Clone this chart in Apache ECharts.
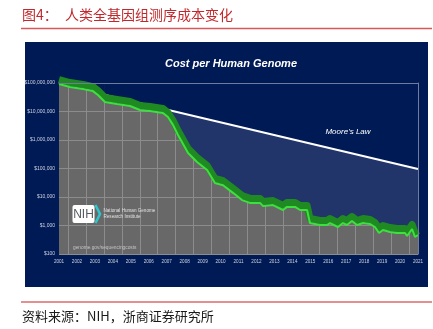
<!DOCTYPE html>
<html>
<head>
<meta charset="utf-8">
<script src="https://cdn.jsdelivr.net/npm/echarts@6/dist/echarts.min.js"></script>
<style>
  html, body { margin: 0; padding: 0; background: #ffffff; }
  #chart { width: 433px; height: 329px; }
</style>
</head>
<body>
<div id="chart"></div>
<script>
// ---- Data ----
const years = [2001.0, 2001.61, 2002.34, 2002.89, 2003.17, 2003.56, 2004.23, 2004.96, 2005.51, 2006.07,
  2006.79, 2007.07, 2007.35, 2007.63, 2008.19, 2008.69, 2009.25, 2009.69, 2010.14, 2010.69,
  2011.2, 2011.64, 2012.2, 2012.37, 2012.92, 2013.48, 2013.7, 2014.15, 2014.43, 2014.82,
  2014.98, 2015.54, 2015.93, 2016.1, 2016.54, 2016.82, 2017.04, 2017.32, 2017.6, 2017.94,
  2018.33, 2018.6, 2018.83, 2019.05, 2019.44, 2019.83, 2020.28, 2020.39, 2020.67, 2020.83, 2021.0];
const costPerGenome = [92e6, 72e6, 62e6, 52e6, 38e6, 21.5e6, 18.3e6, 15.6e6, 11.3e6, 10.4e6,
  8.9e6, 6.4e6, 3.4e6, 1.5e6, 350e3, 170e3, 89e3, 31e3, 26e3, 14e3,
  7800, 6200, 6200, 4800, 5200, 3500, 4500, 4500, 3500, 3500,
  1220, 1040, 1040, 1220, 885, 1220, 1040, 1440, 1040, 1220,
  1130, 885, 545, 695, 590, 545, 545, 428, 754, 395, 464];
const mooreYears = [2003.56, 2021.0];
const mooreCost = [3.8e7, 9.6e4];
const yearMin = 2001, yearMax = 2021;
const costMin = 100, costMax = 1e8;

const title = 'Cost per Human Genome';
const mooreLabel = "Moore's Law";
const headerFig = '图4：';
const headerTitle = '人类全基因组测序成本变化';
const sourceText = '资料来源：NIH，浙商证券研究所';

// ---- Styling ----
const NAVY = '#001a56';
const LIGHT_NAVY = '#22356b';
const GRAY = '#686868';
const GRID_LINE = '#8c8c8c';
const DARK_GREEN = '#1f8a22';
const BRIGHT_GREEN = '#3ee03e';
const BAND_SHIFT = Math.pow(10, 4.5 / 28.5); // lifts the band 4.5px above the cost line

const costData = years.map((y, i) => [y, costPerGenome[i]]);
const early = costData.filter(d => d[0] <= mooreYears[0]);
const late = costData.filter(d => d[0] >= mooreYears[0]);
const mooreData = mooreYears.map((y, i) => [y, mooreCost[i]]);

const chart = echarts.init(document.getElementById('chart'), null, { renderer: 'canvas' });
const LABEL_FONT = '"Liberation Sans", Arial, sans-serif';

chart.setOption({
  animation: false,
  backgroundColor: '#ffffff',
  grid: {
    left: 59, right: 15, top: 83, bottom: 75,
    show: true, backgroundColor: GRAY, borderWidth: 0
  },
  xAxis: [
    {
      type: 'value', min: yearMin, max: yearMax, interval: 1,
      axisLine: { show: false }, axisTick: { show: false },
      axisLabel: { color: '#cfd3de', fontSize: 4.6, margin: 5, fontFamily: LABEL_FONT,
        formatter: v => String(v) },
      splitLine: { show: false },
      minorTick: { show: false, splitNumber: 2 },
      minorSplitLine: { show: true, lineStyle: { color: GRID_LINE, width: 1 } }
    },
    {
      type: 'value', position: 'top', min: yearMin, max: yearMax, z: 10,
      axisLine: { show: true, lineStyle: { color: '#6f7c9c', width: 1 } },
      axisTick: { show: false }, axisLabel: { show: false }, splitLine: { show: false }
    }
  ],
  yAxis: [
    {
      type: 'log', logBase: 10, min: costMin, max: costMax, splitNumber: 6,
      axisLine: { show: false }, axisTick: { show: false },
      axisLabel: { color: '#cfd3de', fontSize: 5, margin: 4, fontFamily: LABEL_FONT,
        formatter: v => '$' + Math.round(v).toLocaleString('en-US') },
      splitLine: { show: true, lineStyle: { color: GRID_LINE, width: 1 } }
    },
    {
      type: 'log', logBase: 10, position: 'right', min: costMin, max: costMax, z: 10,
      axisLine: { show: true, lineStyle: { color: '#6f7c9c', width: 1 } },
      axisTick: { show: false }, axisLabel: { show: false }, splitLine: { show: false }
    },
    {
      type: 'log', logBase: 10, show: false, min: costMin / BAND_SHIFT, max: costMax / BAND_SHIFT,
      splitLine: { show: false }
    }
  ],
  series: [
    {
      type: 'line', name: 'above-early', data: early, symbol: 'none', silent: true,
      lineStyle: { opacity: 0 },
      areaStyle: { origin: 'end', color: NAVY, opacity: 1 }
    },
    {
      type: 'line', name: 'above-late', data: late, symbol: 'none', silent: true,
      lineStyle: { opacity: 0 },
      areaStyle: { origin: 'end', color: LIGHT_NAVY, opacity: 1 }
    },
    {
      type: 'line', name: mooreLabel, data: mooreData, symbol: 'none', silent: true,
      lineStyle: { color: '#ffffff', width: 2 },
      areaStyle: { origin: 'end', color: NAVY, opacity: 1 }
    },
    {
      type: 'line', name: 'band', data: costData, yAxisIndex: 2, symbol: 'none', silent: true,
      clip: false,
      lineStyle: { color: DARK_GREEN, width: 7, join: 'round' }
    },
    {
      type: 'line', name: title, data: costData, symbol: 'none', silent: true,
      clip: false,
      lineStyle: { color: BRIGHT_GREEN, width: 2 }
    }
  ],
  graphic: [
    { type: 'rect', z: -10, silent: true,
      shape: { x: 25, y: 42, width: 403, height: 245 }, style: { fill: NAVY } },
    { type: 'text', z: 100, x: 231, y: 64,
      style: { text: title, fill: '#ffffff', font: 'italic bold 11px ' + LABEL_FONT,
        textAlign: 'center', textVerticalAlign: 'middle' } },
    { type: 'text', z: 100, x: 348, y: 132,
      style: { text: mooreLabel, fill: '#ffffff', font: 'italic 8px ' + LABEL_FONT,
        textAlign: 'center', textVerticalAlign: 'middle' } },
    // NIH logo
    { type: 'rect', z: 100, shape: { x: 72.5, y: 205, width: 22, height: 18, r: 2 },
      style: { fill: '#ffffff' } },
    { type: 'text', z: 101, x: 83.5, y: 214.5,
      style: { text: 'NIH', fill: '#555a60', font: '12px ' + LABEL_FONT,
        textAlign: 'center', textVerticalAlign: 'middle' } },
    { type: 'polyline', z: 100, shape: { points: [[95.5, 205], [100, 214], [95.5, 223]] },
      style: { stroke: '#2cc8cf', lineWidth: 2.5, fill: null } },
    { type: 'text', z: 100, x: 103.5, y: 211,
      style: { text: 'National Human Genome', fill: '#e0e0e0', font: '4.6px ' + LABEL_FONT,
        textVerticalAlign: 'middle' } },
    { type: 'text', z: 100, x: 103.5, y: 217,
      style: { text: 'Research Institute', fill: '#e0e0e0', font: '4.6px ' + LABEL_FONT,
        textVerticalAlign: 'middle' } },
    { type: 'text', z: 100, x: 73, y: 248,
      style: { text: 'genome.gov/sequencingcosts', fill: '#c4c4c4', font: '4.8px ' + LABEL_FONT,
        textVerticalAlign: 'middle' } },
    // Header
    { type: 'text', z: 100, x: 22, y: 15,
      style: { text: headerFig, fill: '#c0282d', font: '14px "Noto Sans CJK SC"',
        textVerticalAlign: 'middle' } },
    { type: 'text', z: 100, x: 65, y: 15,
      style: { text: headerTitle, fill: '#c0282d', font: '14px "Noto Sans CJK SC"',
        textVerticalAlign: 'middle' } },
    { type: 'line', z: 100, shape: { x1: 21, y1: 28.5, x2: 432, y2: 28.5 },
      style: { stroke: '#d9575a', lineWidth: 1.3 } },
    // Footer
    { type: 'line', z: 100, shape: { x1: 21, y1: 302, x2: 432, y2: 302 },
      style: { stroke: '#cc2222', lineWidth: 1 } },
    { type: 'text', z: 100, x: 22, y: 316,
      style: { text: sourceText, fill: '#1a1a1a', font: '13px "Noto Sans CJK SC"',
        textVerticalAlign: 'middle' } }
  ]
});
</script>
</body>
</html>
